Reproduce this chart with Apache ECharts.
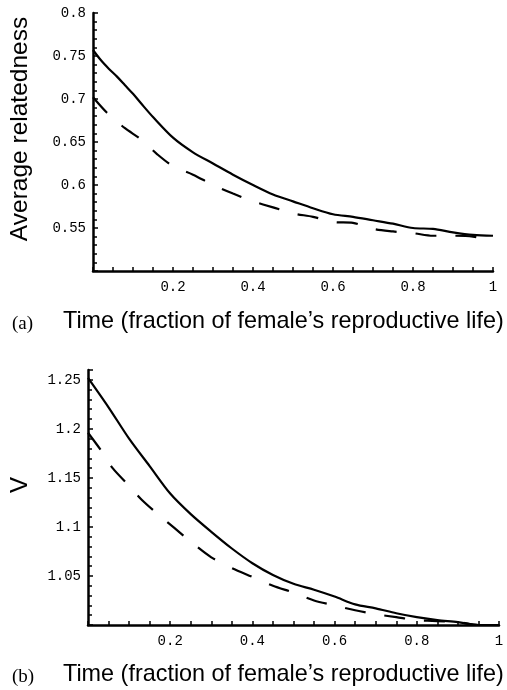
<!DOCTYPE html>
<html>
<head>
<meta charset="utf-8">
<script src="https://cdn.jsdelivr.net/npm/echarts@6/dist/echarts.min.js"></script>
<style>html,body{margin:0;padding:0;background:#fff;}#c{width:507px;height:690px;}</style>
</head>
<body>
<div id="c"></div>
<script>
// Panel (a): average relatedness vs time
const aSolidX = [0, 0.02, 0.04, 0.06, 0.08, 0.1, 0.12, 0.15, 0.2, 0.25, 0.3, 0.35, 0.4, 0.45, 0.5, 0.55, 0.6, 0.65, 0.7, 0.75, 0.8, 0.85, 0.9, 0.95, 1.0];
const aSolidY = [0.757, 0.745, 0.735, 0.726, 0.716, 0.706, 0.695, 0.679, 0.655, 0.638, 0.625, 0.612, 0.600, 0.589, 0.581, 0.573, 0.566, 0.563, 0.559, 0.555, 0.550, 0.549, 0.545, 0.542, 0.541];
const aDashX = [0, 0.035, 0.08, 0.12, 0.16, 0.2, 0.25, 0.3, 0.35, 0.4, 0.45, 0.5, 0.55, 0.6, 0.65, 0.7, 0.75, 0.8, 0.85, 0.9, 0.95, 1.0];
const aDashY = [0.702, 0.684, 0.666, 0.653, 0.636, 0.622, 0.612, 0.600, 0.590, 0.581, 0.574, 0.567, 0.563, 0.557, 0.556, 0.549, 0.546, 0.544, 0.541, 0.541, 0.540, 0.535];
// Panel (b): V vs time
const bSolidX = [0, 0.05, 0.1, 0.15, 0.2, 0.25, 0.3, 0.35, 0.4, 0.45, 0.5, 0.55, 0.6, 0.65, 0.7, 0.75, 0.8, 0.85, 0.9, 0.95, 1.0];
const bSolidY = [1.252, 1.222, 1.190, 1.162, 1.134, 1.113, 1.095, 1.078, 1.063, 1.051, 1.042, 1.036, 1.029, 1.021, 1.017, 1.012, 1.008, 1.005, 1.003, 1.000, 1.000];
const bDashX = [0, 0.03, 0.06, 0.1, 0.13, 0.17, 0.21, 0.25, 0.3, 0.35, 0.4, 0.45, 0.5, 0.55, 0.6, 0.65, 0.7, 0.75, 0.8, 0.85, 0.9, 0.95, 1.0];
const bDashY = [1.196, 1.179, 1.160, 1.142, 1.128, 1.113, 1.099, 1.085, 1.069, 1.058, 1.049, 1.040, 1.033, 1.025, 1.020, 1.015, 1.011, 1.008, 1.005, 1.004, 1.003, 1.000, 1.000];

const xTicks = [0.2, 0.4, 0.6, 0.8, 1];
const aYTicks = [0.55, 0.6, 0.65, 0.7, 0.75, 0.8];
const bYTicks = [1.05, 1.1, 1.15, 1.2, 1.25];

const labels = {
  aY: 'Average relatedness',
  bY: 'V',
  x: 'Time (fraction of female\u2019s reproductive life)',
  a: '(a)',
  b: '(b)'
};

function zip(xs, ys) { return xs.map((x, i) => [x, ys[i]]); }
function fmt(list) {
  return function (v) {
    for (const t of list) if (Math.abs(v - t) < 1e-6) return String(t);
    return '';
  };
}
const monoLabel = { fontFamily: 'Liberation Mono', fontSize: 14, color: '#000' };
const axisLine = { show: true, onZero: false, lineStyle: { color: '#000', width: 2.5 } };

function xAx(gi) {
  return {
    type: 'value', gridIndex: gi, min: 0, max: 1, interval: 0.2,
    axisLine: axisLine,
    axisTick: { show: true, inside: true, length: 4, lineStyle: { color: '#000', width: 1.5 } },
    minorTick: { show: true, splitNumber: 4, length: 4, lineStyle: { color: '#000', width: 1.5 } },
    splitLine: { show: false }, minorSplitLine: { show: false },
    axisLabel: Object.assign({ margin: 9, formatter: fmt(xTicks), showMinLabel: false }, monoLabel)
  };
}
function yAx(gi, min, max, ticks) {
  return {
    type: 'value', gridIndex: gi, min: min, max: max, interval: 0.05,
    axisLine: axisLine,
    axisTick: { show: true, inside: true, length: 5, lineStyle: { color: '#000', width: 1.5 } },
    minorTick: { show: true, splitNumber: 5, length: 4, lineStyle: { color: '#000', width: 1.5 } },
    splitLine: { show: false }, minorSplitLine: { show: false },
    axisLabel: Object.assign({ margin: 7, formatter: fmt(ticks), showMinLabel: false }, monoLabel)
  };
}
function line(xi, data, dashed) {
  return {
    type: 'line', xAxisIndex: xi, yAxisIndex: xi, data: data, smooth: 0.3,
    showSymbol: false, symbol: 'none', clip: true,
    lineStyle: { color: '#000', width: 2.2, type: dashed ? [21, 19] : 'solid' }
  };
}

const chart = echarts.init(document.getElementById('c'), null, { renderer: 'canvas' });
chart.setOption({
  backgroundColor: '#fff',
  animation: false,
  grid: [
    { left: 93, top: 13, width: 400, height: 258 },
    { left: 88, top: 370, width: 411, height: 255 }
  ],
  xAxis: [xAx(0), xAx(1)],
  yAxis: [yAx(0, 0.5, 0.8, aYTicks), yAx(1, 1.0, 1.26, bYTicks)],
  series: [
    line(0, zip(aSolidX, aSolidY), false),
    line(0, zip(aDashX, aDashY), true),
    line(1, zip(bSolidX, bSolidY), false),
    line(1, zip(bDashX, bDashY), true)
  ],
  graphic: [
    { type: 'text', x: 20, y: 129, rotation: Math.PI / 2,
      style: { text: labels.aY, font: '24.5px "Liberation Sans"', fill: '#000', align: 'center', verticalAlign: 'middle' } },
    { type: 'text', x: 20, y: 485, rotation: Math.PI / 2,
      style: { text: labels.bY, font: '24px "Liberation Sans"', fill: '#000', align: 'center', verticalAlign: 'middle' } },
    { type: 'text', x: 12, y: 324,
      style: { text: labels.a, font: '19px "Liberation Serif"', fill: '#000', align: 'left', verticalAlign: 'middle' } },
    { type: 'text', x: 63, y: 322,
      style: { text: labels.x, font: '23.4px "Liberation Sans"', fill: '#000', align: 'left', verticalAlign: 'middle' } },
    { type: 'text', x: 12, y: 677,
      style: { text: labels.b, font: '19px "Liberation Serif"', fill: '#000', align: 'left', verticalAlign: 'middle' } },
    { type: 'text', x: 63, y: 675,
      style: { text: labels.x, font: '23.4px "Liberation Sans"', fill: '#000', align: 'left', verticalAlign: 'middle' } }
  ]
});
</script>
</body>
</html>
